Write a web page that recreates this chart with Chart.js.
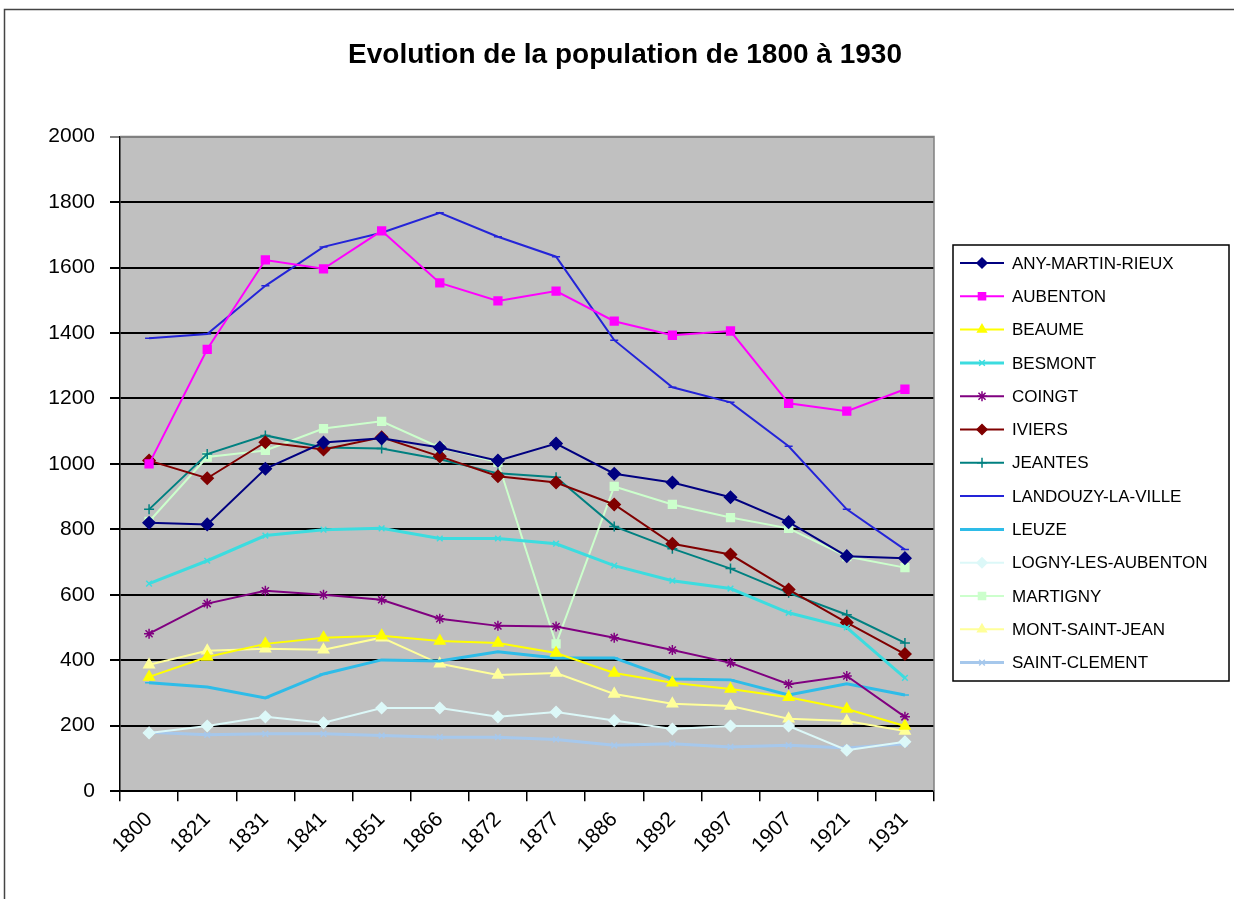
<!DOCTYPE html>
<html>
<head>
<meta charset="utf-8">
<title>Evolution de la population de 1800 à 1930</title>
<script src="https://cdn.jsdelivr.net/npm/chart.js@4"></script>
<style>
    html, body { margin: 0; padding: 0; background: #fff; }
    #wrap { width: 1234px; height: 899px; }
</style>
</head>
<body>
<div id="wrap"><canvas id="popChart" width="1234" height="899"></canvas></div>
<script>
'use strict';

// categories (years) and y ticks
const years = ['1800', '1821', '1831', '1841', '1851', '1866', '1872', '1877', '1886', '1892', '1897', '1907', '1921', '1931'];
const yTicks = [0, 200, 400, 600, 800, 1000, 1200, 1400, 1600, 1800, 2000];

// population per commune
const anyMartinRieux = [820, 815, 985, 1065, 1078, 1050, 1010, 1062, 970, 943, 898, 822, 718, 712];
const aubenton = [1000, 1350, 1623, 1596, 1712, 1553, 1498, 1528, 1436, 1393, 1406, 1185, 1161, 1228];
const beaume = [349, 410, 450, 469, 475, 459, 453, 422, 361, 331, 312, 287, 251, 199];
const besmont = [634, 704, 781, 799, 803, 772, 772, 756, 689, 643, 619, 545, 500, 346];
const coingt = [481, 573, 612, 600, 585, 527, 505, 503, 469, 431, 392, 327, 352, 227];
const iviers = [1010, 956, 1066, 1044, 1081, 1023, 962, 943, 876, 756, 723, 616, 515, 419];
const jeantes = [861, 1030, 1087, 1050, 1047, 1014, 971, 959, 809, 741, 680, 606, 539, 453];
const landouzy = [1384, 1397, 1544, 1663, 1706, 1767, 1694, 1633, 1378, 1234, 1188, 1054, 861, 738];
const leuze = [331, 318, 285, 358, 401, 398, 426, 407, 407, 343, 340, 294, 328, 294];
const lognyLesAubenton = [178, 199, 227, 209, 254, 254, 227, 242, 216, 190, 199, 199, 125, 151];
const martigny = [824, 1021, 1041, 1108, 1130, 1050, 1005, 450, 931, 876, 836, 803, 717, 683];
const montSaintJean = [386, 429, 435, 432, 469, 389, 355, 361, 297, 267, 260, 221, 214, 184];
const saintClement = [180, 172, 175, 175, 170, 165, 165, 158, 140, 145, 135, 140, 132, 145];

const FONT = "'Liberation Sans', Arial, sans-serif";

function series(label, data, color, pointStyle, radius, width) {
    return {
        label: label,
        data: data,
        yAxisID: 'y',
        borderColor: color,
        backgroundColor: color,
        pointBackgroundColor: color,
        pointBorderColor: color,
        pointStyle: pointStyle,
        pointRadius: radius,
        pointBorderWidth: 1.5,
        borderWidth: width || 2,
        tension: 0,
    };
}

const datasets = [
    series('ANY-MARTIN-RIEUX', anyMartinRieux, '#000080', 'rectRot', 6),
    series('AUBENTON', aubenton, '#ff00ff', 'rect', 5.5),
    series('BEAUME', beaume, '#ffff00', 'triangle', 6),
    series('BESMONT', besmont, '#3cdcdf', 'crossRot', 4, 3),
    series('COINGT', coingt, '#800080', 'star', 5),
    series('IVIERS', iviers, '#800000', 'rectRot', 6),
    series('JEANTES', jeantes, '#008080', 'cross', 5),
    series('LANDOUZY-LA-VILLE', landouzy, '#2424d8', 'line', 4),
    series('LEUZE', leuze, '#2ebce8', 'line', 4, 3),
    series('LOGNY-LES-AUBENTON', lognyLesAubenton, '#dcf8f8', 'rectRot', 5.5),
    series('MARTIGNY', martigny, '#ccffcc', 'rect', 5.5),
    series('MONT-SAINT-JEAN', montSaintJean, '#ffff99', 'triangle', 6),
    series('SAINT-CLEMENT', saintClement, '#a6c8ec', 'crossRot', 4, 3),
];

// gray plot area + outer frame of the chart
const plotFrame = {
    id: 'plotFrame',
    beforeDraw(chart) {
        const { ctx, chartArea: a } = chart;
        ctx.save();
        ctx.fillStyle = '#c0c0c0';
        ctx.fillRect(a.left, a.top, a.right - a.left, a.bottom - a.top);
        ctx.strokeStyle = '#444';
        ctx.lineWidth = 1.5;
        ctx.strokeRect(4.5, 9.5, 1400, 1000);
        ctx.restore();
    },
    afterDatasetsDraw(chart) {
        const { ctx, chartArea: a } = chart;
        ctx.save();
        ctx.strokeStyle = '#808080';
        ctx.lineWidth = 1.5;
        ctx.beginPath();
        ctx.moveTo(a.left, a.top);
        ctx.lineTo(a.right, a.top);
        ctx.lineTo(a.right, a.bottom);
        ctx.stroke();
        ctx.restore();
    }
};

// Excel style legend: line with marker, boxed on the right
const boxLegend = {
    id: 'boxLegend',
    afterDraw(chart) {
        const ctx = chart.ctx;
        const box = { left: 953, top: 245, right: 1229, bottom: 681 };
        const rowStart = 263, rowStep = 33.3;
        ctx.save();
        ctx.fillStyle = '#fff';
        ctx.fillRect(box.left, box.top, box.right - box.left, box.bottom - box.top);
        ctx.strokeStyle = '#000';
        ctx.lineWidth = 1.5;
        ctx.strokeRect(box.left, box.top, box.right - box.left, box.bottom - box.top);
        ctx.font = '17px ' + FONT;
        ctx.textBaseline = 'middle';
        ctx.textAlign = 'left';
        chart.data.datasets.forEach((ds, i) => {
            const y = rowStart + i * rowStep;
            ctx.strokeStyle = ds.borderColor;
            ctx.lineWidth = ds.borderWidth;
            ctx.beginPath();
            ctx.moveTo(960, y);
            ctx.lineTo(1004, y);
            ctx.stroke();
            ctx.fillStyle = ds.pointBackgroundColor;
            ctx.strokeStyle = ds.pointBorderColor;
            ctx.lineWidth = 1.5;
            Chart.helpers.drawPoint(ctx, {
                pointStyle: ds.pointStyle,
                radius: Math.min(ds.pointRadius, 5),
                rotation: 0,
                borderWidth: 1.5
            }, 982, y);
            ctx.fillStyle = '#000';
            ctx.fillText(ds.label, 1012, y + 1);
        });
        ctx.restore();
    }
};

new Chart(document.getElementById('popChart'), {
    type: 'line',
    data: { labels: years, datasets: datasets },
    options: {
        responsive: false,
        animation: false,
        layout: { padding: { left: 16, right: 0, top: 10, bottom: 35 } },
        plugins: {
            legend: { display: false },
            tooltip: { enabled: false },
            title: {
                display: true,
                text: 'Evolution de la population de 1800 à 1930',
                color: '#000',
                font: { family: FONT, size: 28, weight: 'bold' },
                padding: { top: 28, bottom: 65 }
            }
        },
        scales: {
            x: {
                type: 'category',
                offset: true,
                border: { display: true, color: '#000', width: 1.5 },
                grid: { offset: true, drawOnChartArea: false, drawTicks: true, tickLength: 10, color: '#000', lineWidth: 1.5 },
                ticks: {
                    color: '#000',
                    minRotation: 45,
                    maxRotation: 45,
                    autoSkip: false,
                    padding: 6,
                    font: { family: FONT, size: 21 }
                }
            },
            y: {
                min: 0,
                max: 2000,
                afterBuildTicks(scale) {
                    scale.ticks = yTicks.map(v => ({ value: v }));
                },
                afterFit(scale) { scale.width = 104; },
                border: { display: true, color: '#000', width: 1.5 },
                grid: {
                    color: ctx => (ctx.tick && ctx.tick.value === 2000 ? '#808080' : '#000'),
                    lineWidth: 2,
                    tickLength: 10
                },
                ticks: {
                    color: '#000',
                    padding: 15,
                    font: { family: FONT, size: 21 },
                    callback: v => String(v)
                }
            },
            // empty band on the right, where the legend box sits
            legendSpace: {
                type: 'linear',
                position: 'right',
                display: true,
                border: { display: false },
                grid: { display: false, drawTicks: false },
                ticks: { display: false },
                afterFit(scale) { scale.width = 300; }
            }
        }
    },
    plugins: [plotFrame, boxLegend]
});
</script>
</body>
</html>
